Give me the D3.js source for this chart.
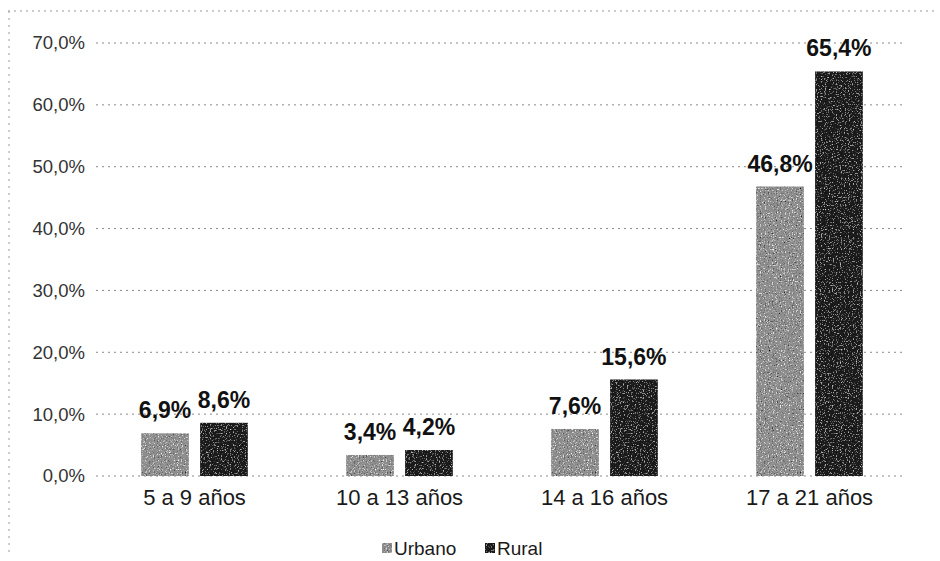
<!DOCTYPE html>
<html>
<head>
<meta charset="utf-8">
<script src="https://cdn.jsdelivr.net/npm/d3@7/dist/d3.min.js"></script>
<style>
  html, body { margin: 0; padding: 0; background: #fff; }
  svg { display: block; font-family: "Liberation Sans", Arial, sans-serif; }
</style>
</head>
<body>
<svg id="chart" width="940" height="561"></svg>
<script>
// Age groups and the share for each area
const categories = ["5 a 9 años", "10 a 13 años", "14 a 16 años", "17 a 21 años"];
const series = ["Urbano", "Rural"];
const urbano = [6.9, 3.4, 7.6, 46.8];
const rural = [8.6, 4.2, 15.6, 65.4];
const yTicks = [0, 10, 20, 30, 40, 50, 60, 70];

const fmt = v => d3.format(".1f")(v).replace(".", ",") + "%";

const svg = d3.select("#chart");
const W = 940, H = 561;

// grainy print texture for the bars
const defs = svg.append("defs");
function grain(id, seed, light, dark) {
  const f = defs.append("filter").attr("id", id)
    .attr("x", 0).attr("y", 0).attr("width", "100%").attr("height", "100%");
  f.append("feTurbulence").attr("type", "fractalNoise")
    .attr("baseFrequency", 0.75).attr("numOctaves", 2).attr("seed", seed).attr("result", "noise");
  f.append("feColorMatrix").attr("in", "noise").attr("type", "matrix")
    .attr("values", `0 0 0 0 1  0 0 0 0 1  0 0 0 0 1  ${light} 0 0 0 ${-light * 0.58}`)
    .attr("result", "wspk");
  f.append("feColorMatrix").attr("in", "noise").attr("type", "matrix")
    .attr("values", `0 0 0 0 0  0 0 0 0 0  0 0 0 0 0  ${-dark} 0 0 0 ${dark * 0.42}`)
    .attr("result", "bspk");
  f.append("feComposite").attr("in", "wspk").attr("in2", "SourceGraphic").attr("operator", "in").attr("result", "w");
  f.append("feComposite").attr("in", "bspk").attr("in2", "SourceGraphic").attr("operator", "in").attr("result", "b");
  const m = f.append("feMerge");
  m.append("feMergeNode").attr("in", "SourceGraphic");
  m.append("feMergeNode").attr("in", "w");
  m.append("feMergeNode").attr("in", "b");
}
grain("grainUrbano", 4, 3.5, 3.5);
grain("grainRural", 9, 2.2, 2.0);

const color = d3.scaleOrdinal().domain(series).range(["#8e8e8e", "#1c1c1c"]);
const grainOf = { Urbano: "url(#grainUrbano)", Rural: "url(#grainRural)" };

const y = d3.scaleLinear().domain([0, 70]).range([476, 43]);
const x0 = d3.scaleBand().domain(categories).range([92, 912])
  .paddingInner(0.48).paddingOuter(0.24);
const x1 = d3.scaleBand().domain(series).range([0, x0.bandwidth()]).paddingInner(0.19);

// chart frame (top and left edges)
svg.append("line").attr("x1", 8).attr("x2", W - 6).attr("y1", 11).attr("y2", 11)
  .attr("stroke", "#999").attr("stroke-dasharray", "2,4");
svg.append("line").attr("x1", 9).attr("x2", 9).attr("y1", 11).attr("y2", H - 4)
  .attr("stroke", "#999").attr("stroke-dasharray", "2,5");

// dotted gridlines
svg.append("g").selectAll("line").data(yTicks).join("line")
  .attr("x1", 96).attr("x2", 906)
  .attr("y1", d => y(d)).attr("y2", d => y(d))
  .attr("stroke", "#8a8a8a").attr("stroke-width", 1).attr("stroke-dasharray", "2,4");

// y axis labels
const yAxis = d3.axisLeft(y).tickValues(yTicks).tickFormat(fmt).tickSize(0).tickPadding(0);
const gy = svg.append("g").attr("transform", "translate(85,0)").call(yAxis);
gy.select(".domain").remove();
gy.selectAll("text").attr("font-size", 18.5).attr("fill", "#333")
  .attr("font-family", "'Liberation Sans', Arial, sans-serif");

// x axis labels
const xAxis = d3.axisBottom(x0).tickSize(0).tickPadding(0);
const gx = svg.append("g").attr("transform", "translate(0,489)").call(xAxis);
gx.select(".domain").remove();
gx.selectAll("text").attr("font-size", 22).attr("fill", "#1a1a1a")
  .attr("font-family", "'Liberation Sans', Arial, sans-serif");

// bars
const rows = categories.map((c, i) => ({ cat: c, Urbano: urbano[i], Rural: rural[i] }));
const groups = svg.append("g").selectAll("g").data(rows).join("g")
  .attr("transform", d => `translate(${x0(d.cat)},0)`);

groups.selectAll("rect").data(d => series.map(s => ({ s, v: d[s] }))).join("rect")
  .attr("x", d => x1(d.s))
  .attr("y", d => y(d.v))
  .attr("width", x1.bandwidth())
  .attr("height", d => y(0) - y(d.v))
  .attr("fill", d => color(d.s))
  .attr("filter", d => grainOf[d.s]);

// value labels
groups.selectAll("text").data(d => series.map(s => ({ s, v: d[s] }))).join("text")
  .attr("x", d => x1(d.s) + x1.bandwidth() / 2)
  .attr("y", d => y(d.v) - 15)
  .attr("text-anchor", "middle")
  .attr("font-size", 23).attr("font-weight", "bold").attr("fill", "#111")
  .text(d => fmt(d.v));

// legend
const legend = svg.append("g").attr("transform", "translate(382,548)");
const items = [{ s: "Urbano", x: 0 }, { s: "Rural", x: 103 }];
const li = legend.selectAll("g").data(items).join("g")
  .attr("transform", d => `translate(${d.x},0)`);
li.append("rect").attr("x", 0).attr("y", -5).attr("width", 10).attr("height", 10)
  .attr("fill", d => color(d.s)).attr("filter", d => grainOf[d.s]);
li.append("text").attr("x", 12).attr("y", 7)
  .attr("font-size", 19).attr("fill", "#1a1a1a").text(d => d.s);
</script>
</body>
</html>
